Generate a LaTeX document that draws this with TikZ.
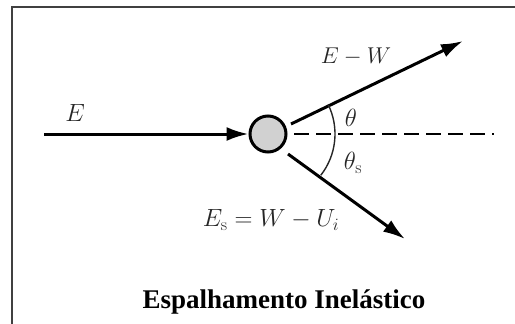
\documentclass[tikz,border=0pt]{standalone}
\usepackage{fontspec}
\newfontfamily\titlefont{Liberation Serif}
\usetikzlibrary{arrows.meta}
\begin{document}
\begin{tikzpicture}[x=1pt,y=1pt,
  ray/.style={line width=3pt,-{Latex[length=22pt,width=14pt]}},
  lbl/.style={text=black!85,font=\fontsize{25}{30}\selectfont,inner sep=0pt},
  frame/.style={draw=black!75,line width=1.6pt}]
\useasboundingbox (0,0) rectangle (515,-324);
\clip (0,0) rectangle (515,-324);
\draw[frame] (12,-7) rectangle (540,-360);
% particle
\node[circle,draw,line width=3pt,fill=black!18,minimum size=36pt,inner sep=0pt] (p) at (268,-134) {};
% incoming
\coordinate (src) at (44,-134);
\draw[ray] (src) -- (p.west);
% dashed reference line
\coordinate (d0) at (294,-134);
\coordinate (d1) at (494,-134);
\draw[line width=2.6pt,dash pattern=on 15pt off 7pt] (d0) -- (d1);
% scattered
\coordinate (u0) at (291,-124);
\coordinate (u1) at (463,-41);
\draw[ray] (u0) -- (u1);
\coordinate (l0) at (288,-154);
\coordinate (l1) at (405,-239);
\draw[ray] (l0) -- (l1);
% angle arc
\draw[line width=1.4pt,black!85] (p.center) ++(26:67) arc[start angle=26,end angle=-38,radius=67];
% labels
\node[lbl] (lE) at (75,-113) {$E$};
\node[lbl,scale=0.92] (lEW) at (356,-57) {$E-W$};
\node[lbl] (lth) at (351,-118) {$\theta$};
\node[lbl] (lths) at (353,-163) {$\theta_{\mathrm{s}}$};
\node[lbl] (lEs) at (271,-220) {$E_{\mathrm{s}}=W-U_i$};
\node[inner sep=0pt,font=\titlefont\bfseries\fontsize{27}{32}\selectfont] (title) at (284,-302) {Espalhamento Inelástico};
\end{tikzpicture}
\end{document}
